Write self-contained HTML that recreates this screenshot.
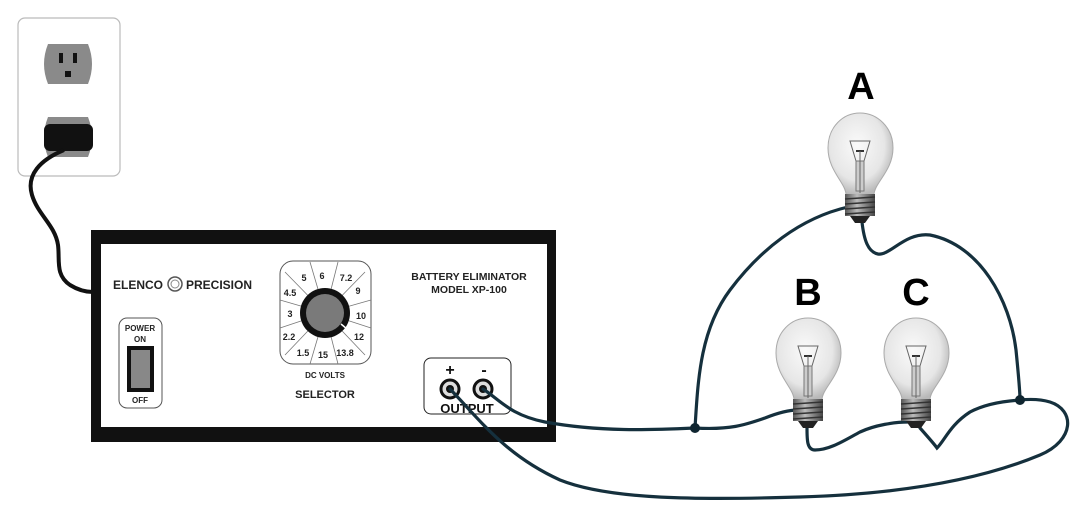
<!DOCTYPE html>
<html><head><meta charset="utf-8"><style>
html,body{margin:0;padding:0;background:#fff;}
svg{display:block;font-family:"Liberation Sans",Arial,sans-serif;}
</style></head><body>
<svg width="1080" height="524" viewBox="0 0 1080 524" xmlns="http://www.w3.org/2000/svg">
<defs>
<radialGradient id="gl" cx="0.45" cy="0.4" r="0.6">
<stop offset="0" stop-color="#fafafa"/><stop offset="0.7" stop-color="#e6e6e6"/><stop offset="1" stop-color="#b8b8b8"/>
</radialGradient>
<linearGradient id="bs" x1="0" x2="1" y1="0" y2="0">
<stop offset="0" stop-color="#555"/><stop offset="0.4" stop-color="#bbb"/><stop offset="1" stop-color="#444"/>
</linearGradient>
<g id="bulb">
<path d="M -14,82 C -14,70 -32,58 -32,35 C -32,14 -17,0 0,0 C 17,0 33,14 33,35 C 33,58 14,70 14,82 Z" fill="url(#gl)" stroke="#aaa" stroke-width="1"/>
<path d="M -10,28 L 10,28 L 4,48 L -4,48 Z" fill="none" stroke="#666" stroke-width="1"/>
<line x1="-4" y1="38" x2="4" y2="38" stroke="#333" stroke-width="2"/>
<rect x="-4" y="48" width="8" height="30" fill="#ccc" stroke="#777" stroke-width="1"/>
<line x1="0" y1="38" x2="0" y2="80" stroke="#666" stroke-width="1"/>
<rect x="-15" y="81" width="30" height="22" fill="url(#bs)"/>
<g stroke="#333" stroke-width="1.5">
<line x1="-15" y1="86" x2="15" y2="84"/><line x1="-15" y1="91" x2="15" y2="89"/><line x1="-15" y1="96" x2="15" y2="94"/><line x1="-15" y1="101" x2="15" y2="99"/>
</g>
<path d="M -10,103 L 10,103 L 5,110 L -5,110 Z" fill="#222"/>
</g>
</defs>

<rect x="18" y="18" width="102" height="158" rx="7" fill="#fff" stroke="#bbb" stroke-width="1.2"/>
<path d="M 48,44 L 88,44 Q 96,64 88,84 L 48,84 Q 40,64 48,44 Z" fill="#8a8a8a"/>
<rect x="59" y="53" width="4" height="10" fill="#111"/>
<rect x="73" y="53" width="4" height="10" fill="#111"/>
<rect x="65" y="71" width="6" height="6" fill="#111"/>
<path d="M 48,117 L 88,117 Q 96,137 88,157 L 48,157 Q 40,137 48,117 Z" fill="#8a8a8a"/>
<rect x="44" y="124" width="49" height="27" rx="6" fill="#111"/>
<path d="M 64,150 C 40,160 26,175 32,195 C 38,215 55,225 58,245 C 60,260 55,275 70,285 C 78,290 85,292 93,292" fill="none" stroke="#111" stroke-width="4"/>

<rect x="91" y="230" width="465" height="212" fill="#111"/>
<rect x="101" y="244" width="446" height="183" fill="#fff"/>
<text x="113" y="289" font-size="12" font-weight="bold" fill="#222">ELENCO</text>
<circle cx="175" cy="284" r="7" fill="none" stroke="#555" stroke-width="1.5"/>
<circle cx="175" cy="284" r="4" fill="none" stroke="#888" stroke-width="1"/>
<text x="186" y="289" font-size="12" font-weight="bold" fill="#222">PRECISION</text>
<text x="469" y="280" font-size="10.5" font-weight="bold" fill="#222" text-anchor="middle">BATTERY ELIMINATOR</text>
<text x="469" y="293" font-size="10.5" font-weight="bold" fill="#222" text-anchor="middle">MODEL XP-100</text>
<rect x="119" y="318" width="43" height="90" rx="8" fill="#fff" stroke="#555" stroke-width="1"/>
<text x="140" y="331" font-size="8" font-weight="bold" fill="#222" text-anchor="middle">POWER</text>
<text x="140" y="342" font-size="8" font-weight="bold" fill="#222" text-anchor="middle">ON</text>
<rect x="127" y="346" width="27" height="46" fill="#111"/>
<rect x="131" y="350" width="19" height="38" fill="#888"/>
<text x="140" y="403" font-size="8" font-weight="bold" fill="#222" text-anchor="middle">OFF</text>
<rect x="280" y="261" width="91" height="103" rx="13" fill="#fff" stroke="#555" stroke-width="1"/>
<g stroke="#777" stroke-width="0.8">
<line x1="325" y1="313" x2="285" y2="272"/><line x1="325" y1="313" x2="310" y2="262"/>
<line x1="325" y1="313" x2="338" y2="262"/><line x1="325" y1="313" x2="365" y2="272"/>
<line x1="325" y1="313" x2="371" y2="300"/><line x1="325" y1="313" x2="371" y2="328"/>
<line x1="325" y1="313" x2="365" y2="355"/><line x1="325" y1="313" x2="338" y2="364"/>
<line x1="325" y1="313" x2="310" y2="364"/><line x1="325" y1="313" x2="285" y2="355"/>
<line x1="325" y1="313" x2="280" y2="328"/><line x1="325" y1="313" x2="280" y2="300"/>
</g>
<circle cx="325" cy="313" r="25" fill="#111"/>
<circle cx="325" cy="313" r="19" fill="#7a7a7a"/>
<line x1="341" y1="324" x2="347" y2="329" stroke="#fff" stroke-width="1.5"/>
<g font-size="9" font-weight="bold" fill="#222" text-anchor="middle">
<text x="304" y="281">5</text><text x="322" y="279">6</text><text x="346" y="281">7.2</text>
<text x="358" y="294">9</text><text x="290" y="296">4.5</text><text x="290" y="317">3</text>
<text x="361" y="319">10</text><text x="289" y="340">2.2</text><text x="359" y="340">12</text>
<text x="303" y="356">1.5</text><text x="323" y="358">15</text><text x="345" y="356">13.8</text>
</g>
<text x="325" y="378" font-size="8" font-weight="bold" fill="#222" text-anchor="middle">DC VOLTS</text>
<text x="325" y="398" font-size="11" font-weight="bold" fill="#222" text-anchor="middle">SELECTOR</text>
<rect x="424" y="358" width="87" height="56" rx="7" fill="#fff" stroke="#222" stroke-width="1"/>
<text x="450" y="375" font-size="16" font-weight="bold" fill="#111" text-anchor="middle">+</text>
<text x="484" y="375" font-size="16" font-weight="bold" fill="#111" text-anchor="middle">-</text>
<circle cx="450" cy="389" r="9" fill="#ddd" stroke="#111" stroke-width="3"/>
<circle cx="450" cy="389" r="4" fill="#111"/>
<circle cx="483" cy="389" r="9" fill="#ddd" stroke="#111" stroke-width="3"/>
<circle cx="483" cy="389" r="4" fill="#111"/>
<text x="467" y="413" font-size="13" font-weight="bold" fill="#111" text-anchor="middle">OUTPUT</text>

<g fill="none" stroke="#15303d" stroke-width="3.2" stroke-linecap="round">
<path d="M 483,389 C 500,400 510,415 545,422 C 600,432 650,430 695,428"/>
<path d="M 450,389 C 480,420 505,455 560,480 C 610,500 700,500 800,497 C 900,494 980,480 1040,455 C 1075,440 1075,410 1050,402 C 1040,399 1030,399 1020,400"/>
<path d="M 695,428 C 698,380 700,330 730,290 C 760,250 800,218 848,207"/>
<path d="M 862,222 C 864,240 868,252 878,254 C 890,256 905,232 930,235 C 980,245 1010,300 1016,350 C 1019,380 1020,392 1020,400"/>
<path d="M 695,428 C 730,430 745,425 765,418 C 780,412 790,410 798,410"/>
<path d="M 807,428 C 807,440 807,450 815,450 C 830,450 845,440 860,432 C 875,425 895,422 908,422"/>
<path d="M 920,428 C 928,437 935,445 937,448 C 945,440 950,425 970,412 C 985,404 1005,401 1020,400"/>
</g>
<circle cx="695" cy="428" r="5" fill="#0f2530"/>
<circle cx="1020" cy="400" r="5" fill="#0f2530"/>

<use href="#bulb" transform="translate(860,113)"/>
<use href="#bulb" transform="translate(808,318)"/>
<use href="#bulb" transform="translate(916,318)"/>
<g font-size="38" font-weight="bold" fill="#000" text-anchor="middle">
<text x="861" y="99">A</text>
<text x="808" y="305">B</text>
<text x="916" y="305">C</text>
</g>
</svg>
</body></html>
